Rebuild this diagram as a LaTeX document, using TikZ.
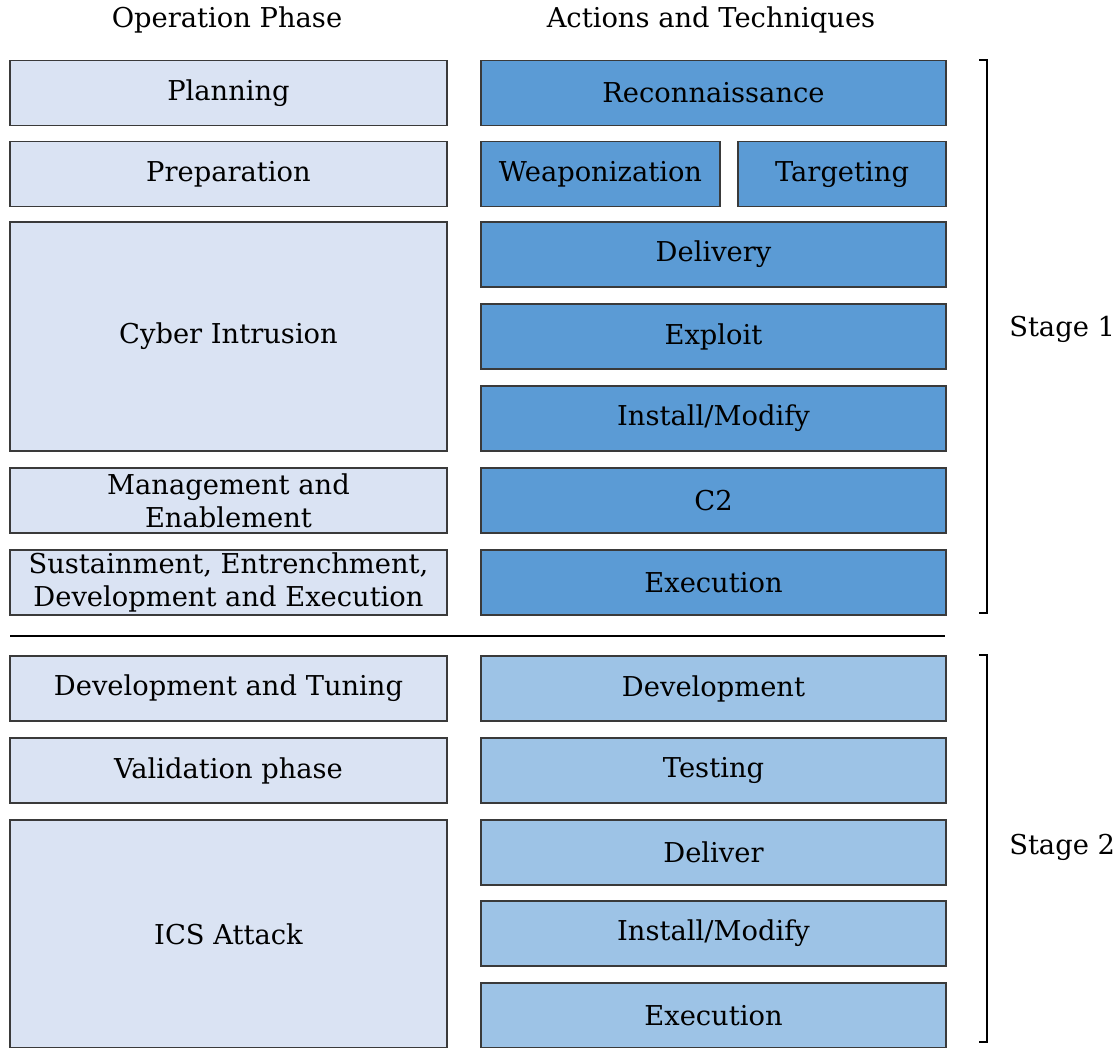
\documentclass[tikz,border=0pt]{standalone}
\usepackage{fontspec}
\setmainfont{DejaVu Serif}
\definecolor{phasefill}{HTML}{DAE3F3}
\definecolor{stageone}{HTML}{5B9BD5}
\definecolor{stagetwo}{HTML}{9DC3E6}
\definecolor{edge}{HTML}{3A3A3A}
\begin{document}
\begin{tikzpicture}[x={(0.75pt,0)},y={(0,-0.75pt)},
  txt/.style={font=\fontsize{20.5}{24.75}\selectfont, text=black, align=center, inner sep=0pt},
  cell/.style={txt, draw=edge, line width=0.8pt, minimum height=48.75pt},
  phase/.style={cell, fill=phasefill, minimum width=327.75pt},
  actone/.style={cell, fill=stageone, minimum width=348.75pt},
  acttwo/.style={cell, fill=stagetwo, minimum width=348.75pt},
  bracket/.style={draw=black, line width=2.2pt},
  rule/.style={draw=black, line width=2.1pt}]
\useasboundingbox (0,0) rectangle (1118,1048);

% column headings
\node[txt] (hphase) at (227,20) {Operation Phase};
\node[txt] (hact) at (711,20) {Actions and Techniques};

% operation phases
\node[phase] (plan) at (228.5,93) {Planning};
\node[phase] (prep) at (228.5,174) {Preparation};
\node[phase, minimum height=171.75pt] (intr) at (228.5,336.5) {Cyber Intrusion};
\node[phase] (mgmt) at (228.5,500.5) {Management and\\Enablement};
\node[phase] (sust) at (228.5,582.5) {Sustainment, Entrenchment,\\Development and Execution};
\node[phase] (tune) at (228.5,688.5) {Development and Tuning};
\node[phase] (valid) at (228.5,770.5) {Validation phase};
\node[phase, minimum height=171pt] (ics) at (228.5,934) {ICS Attack};

% stage 1 actions
\node[actone] (recon) at (713.5,93) {Reconnaissance};
\node[actone, minimum width=179.25pt] (weap) at (600.5,174) {Weaponization};
\node[actone, minimum width=156pt] (targ) at (842,174) {Targeting};
\node[actone] (deliv) at (713.5,254.5) {Delivery};
\node[actone] (expl) at (713.5,336.5) {Exploit};
\node[actone] (inst) at (713.5,418.5) {Install/Modify};
\node[actone] (ctwo) at (713.5,500.5) {C2};
\node[actone] (exec) at (713.5,582.5) {Execution};

% stage 2 actions
\node[acttwo] (devel) at (713.5,688.5) {Development};
\node[acttwo] (test) at (713.5,770.5) {Testing};
\node[acttwo] (deliver) at (713.5,852.5) {Deliver};
\node[acttwo] (insttwo) at (713.5,933.5) {Install/Modify};
\node[acttwo] (exectwo) at (713.5,1015.5) {Execution};

% divider between the stages
\coordinate (ruleL) at (10,636);
\coordinate (ruleR) at (945,636);
\draw[rule] (ruleL) -- (ruleR);

% stage brackets
\coordinate (sa1) at (979,60);
\coordinate (sa2) at (987,60);
\coordinate (sa3) at (987,613);
\coordinate (sa4) at (979,613);
\draw[bracket] (sa1) -- (sa2) -- (sa3) -- (sa4);
\coordinate (sb1) at (979,655);
\coordinate (sb2) at (987,655);
\coordinate (sb3) at (987,1042);
\coordinate (sb4) at (979,1042);
\draw[bracket] (sb1) -- (sb2) -- (sb3) -- (sb4);

\node[txt, anchor=west] (stone) at (1009,329) {Stage 1};
\node[txt, anchor=west] (sttwo) at (1009,847) {Stage 2};
\end{tikzpicture}
\end{document}
